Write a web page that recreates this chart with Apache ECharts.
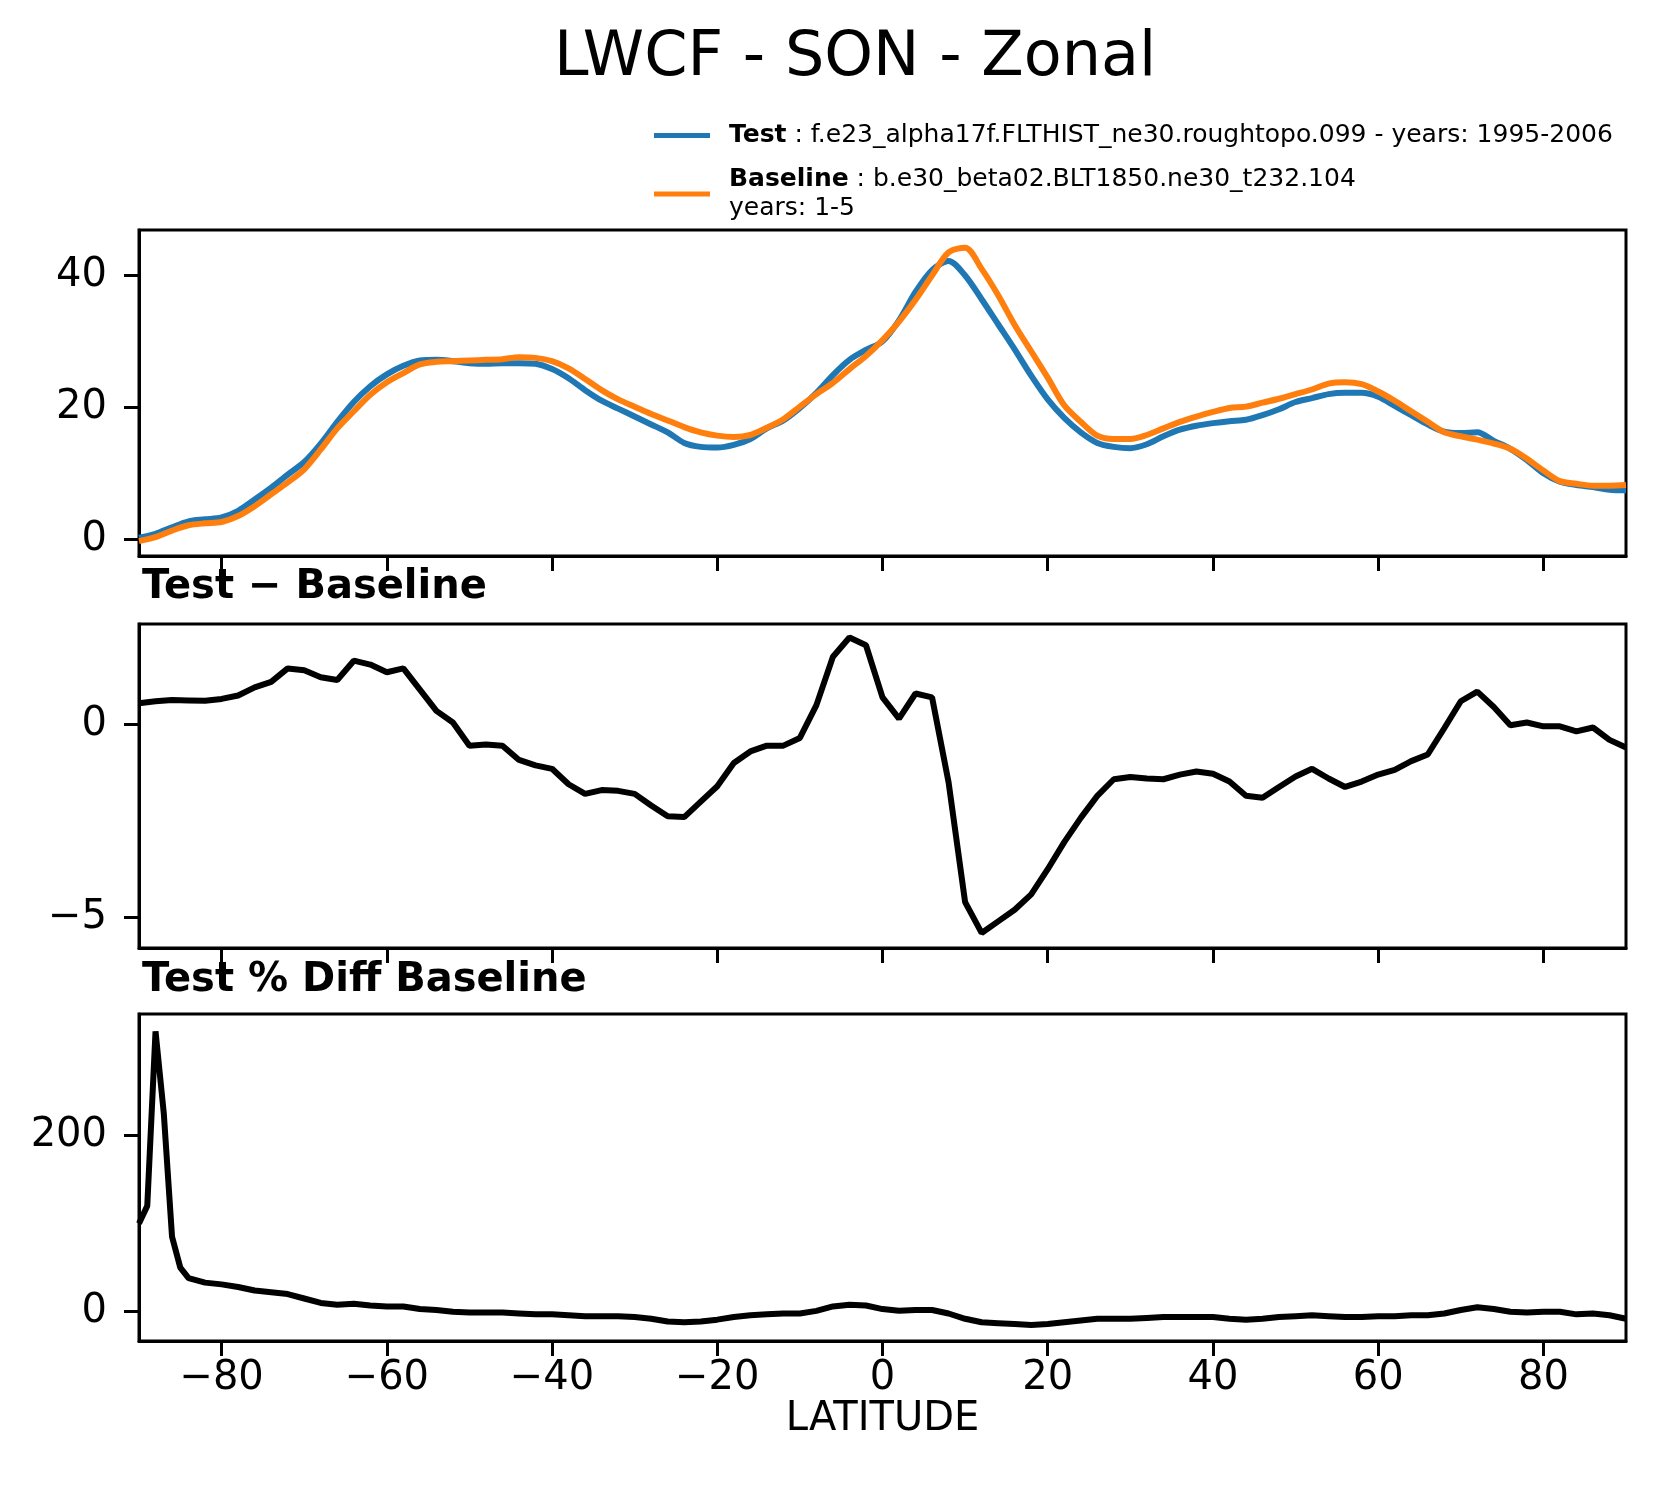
<!DOCTYPE html>
<html>
<head>
<meta charset="utf-8">
<script src="https://cdn.jsdelivr.net/npm/echarts@6/dist/echarts.min.js"></script>
<style>
  html, body { margin: 0; padding: 0; background: #fff; }
  #main { width: 1656px; height: 1496px; }
</style>
</head>
<body>
<div id="main"></div>
<script>
// latitude grid for the zonal means (2 degree steps)
var lat = [-90,-88,-86,-84,-82,-80,-78,-76,-74,-72,-70,-68,-66,-64,-62,-60,-58,-56,-54,-52,
  -50,-48,-46,-44,-42,-40,-38,-36,-34,-32,-30,-28,-26,-24,-22,-20,-18,-16,-14,-12,
  -10,-8,-6,-4,-2,0,2,4,6,8,10,12,14,16,18,20,22,24,26,28,
  30,32,34,36,38,40,42,44,46,48,50,52,54,56,58,60,62,64,66,68,
  70,72,74,76,78,80,82,84,86,88,90];

var testVals = [0.2,0.8,1.8,2.7,3.0,3.3,4.3,6.0,7.8,9.8,11.7,14.5,17.8,20.8,23.2,25.0,26.3,27.1,27.2,27.0,
  26.7,26.6,26.7,26.7,26.6,25.8,24.4,22.6,21.0,19.8,18.6,17.4,16.2,14.6,14.0,13.9,14.3,15.2,16.8,18.0,
  19.9,22.2,24.9,27.2,28.7,30.0,33.2,37.5,40.8,42.2,40.0,36.4,32.6,28.8,24.8,21.2,18.4,16.2,14.6,14.0,
  13.8,14.4,15.6,16.6,17.2,17.6,17.9,18.1,18.8,19.7,20.8,21.4,22.0,22.2,22.2,21.6,20.2,18.8,17.4,16.3,
  16.1,16.2,14.9,13.7,12.0,10.0,8.7,8.2,7.9,7.5,7.4];

var baseVals = [-0.3,0.3,1.3,2.1,2.4,2.6,3.5,5.0,6.8,8.6,10.6,13.6,16.8,19.4,21.9,23.8,25.2,26.5,26.9,27.0,
  27.1,27.2,27.3,27.6,27.5,27.0,25.9,24.3,22.6,21.2,20.1,19.0,18.0,17.0,16.2,15.7,15.5,15.8,16.9,18.2,
  20.1,22.0,23.7,25.8,27.8,30.2,33.0,36.3,40.0,43.5,44.2,41.0,37.0,32.5,28.5,24.5,20.3,17.8,15.7,15.2,
  15.2,15.8,16.8,17.8,18.6,19.3,19.9,20.1,20.7,21.3,22.0,22.7,23.6,23.8,23.5,22.4,21.0,19.4,17.8,16.2,
  15.6,15.1,14.5,13.7,12.2,10.4,8.8,8.4,8.1,8.1,8.2];

var diffVals = [0.55,0.6,0.63,0.62,0.61,0.66,0.75,0.96,1.1,1.45,1.4,1.22,1.15,1.65,1.55,1.35,1.45,0.9,0.35,0.05,
  -0.55,-0.52,-0.55,-0.92,-1.06,-1.15,-1.55,-1.8,-1.7,-1.72,-1.8,-2.1,-2.38,-2.4,-2.0,-1.6,-1.0,-0.7,-0.55,-0.55,
  -0.35,0.5,1.75,2.25,2.05,0.7,0.15,0.8,0.7,-1.5,-4.6,-5.4,-5.1,-4.8,-4.4,-3.75,-3.05,-2.42,-1.85,-1.42,
  -1.36,-1.4,-1.42,-1.3,-1.22,-1.28,-1.48,-1.85,-1.9,-1.62,-1.35,-1.15,-1.4,-1.62,-1.48,-1.3,-1.18,-0.95,-0.78,-0.1,
  0.6,0.85,0.45,-0.02,0.05,-0.05,-0.05,-0.18,-0.08,-0.4,-0.6];

// percent difference uses a finer spacing near the south pole
var pctLat = [-90,-89,-88,-87,-86,-85,-84,-82,-80,-78,-76,-74,-72,-70,-68,-66,-64,-62,-60,-58,
  -56,-54,-52,-50,-48,-46,-44,-42,-40,-38,-36,-34,-32,-30,-28,-26,-24,-22,-20,-18,
  -16,-14,-12,-10,-8,-6,-4,-2,0,2,4,6,8,10,12,14,16,18,20,22,
  24,26,28,30,32,34,36,38,40,42,44,46,48,50,52,54,56,58,60,62,
  64,66,68,70,72,74,76,78,80,82,84,86,88,90];
var pctVals = [100,120,318,225,85,50,38,33,31,28,24,22,20,15,10,8,9,7,6,6,
  3,2,0,-1,-1,-1,-2,-3,-3,-4,-5,-5,-5,-6,-8,-11,-12,-11,-9,-6,
  -4,-3,-2,-2,1,6,8,7,3,1,2,2,-2,-8,-12,-13,-14,-15,-14,-12,
  -10,-8,-8,-8,-7,-6,-6,-6,-6,-8,-9,-8,-6,-5,-4,-5,-6,-6,-5,-5,
  -4,-4,-2,2,5,3,0,-1,0,0,-3,-2,-4,-8];

var xTicks = [-80,-60,-40,-20,0,20,40,60,80];
var yTicks1 = [0,20,40];
var yTicks2 = [-5,0];
var yTicks3 = [0,200];

function pairs(xs, ys) {
  return xs.map(function (x, i) { return [x, ys[i]]; });
}
function minus(v) {
  return String(v).replace('-', '\u2212');
}

var FONT = 'DejaVu Sans';
var grids = [
  { left: 139, top: 230, width: 1487, height: 326 },
  { left: 139, top: 624, width: 1487, height: 324 },
  { left: 139, top: 1014, width: 1487, height: 327 }
];
var yRanges = [[-2.56, 46.9], [-5.79, 2.6], [-33.2, 337.6]];
var yTickSets = [yTicks1, yTicks2, yTicks3];

var chart = echarts.init(document.getElementById('main'), null, { renderer: 'canvas' });

var option = {
  backgroundColor: '#fff',
  animation: false,
  title: [
    { text: 'LWCF - SON - Zonal', left: 549, top: 23,
      textStyle: { fontFamily: FONT, fontSize: 62, fontWeight: 'normal', color: '#000' } },
    { text: 'Test \u2212 Baseline', left: 137, top: 563,
      textStyle: { fontFamily: FONT, fontSize: 40, fontWeight: 'bold', color: '#000' } },
    { text: 'Test % Diff Baseline', left: 137, top: 956,
      textStyle: { fontFamily: FONT, fontSize: 40, fontWeight: 'bold', color: '#000' } }
  ],
  legend: {
    orient: 'vertical',
    left: 649,
    top: 116,
    itemWidth: 56,
    itemHeight: 5,
    itemGap: 15,
    icon: 'rect',
    data: ['Test', 'Baseline'],
    formatter: function (name) {
      if (name === 'Test') {
        return '{b|Test} : f.e23_alpha17f.FLTHIST_ne30.roughtopo.099 - years: 1995-2006';
      }
      return '{b|Baseline} : b.e30_beta02.BLT1850.ne30_t232.104\nyears: 1-5';
    },
    textStyle: {
      fontFamily: FONT, fontSize: 25, color: '#000', lineHeight: 29, padding: [0, 0, 0, 14],
      rich: { b: { fontFamily: FONT, fontSize: 25, fontWeight: 'bold', color: '#000', lineHeight: 29 } }
    }
  },
  grid: grids.map(function (g) {
    return Object.assign({ show: true, borderColor: '#000', borderWidth: 3, backgroundColor: 'transparent' }, g);
  }),
  xAxis: grids.map(function (g, i) {
    return {
      type: 'value', gridIndex: i, min: -90, max: 90,
      splitLine: { show: false },
      axisLine: { show: true, onZero: false, lineStyle: { color: '#000', width: 3 } },
      axisTick: { show: true, length: 15, lineStyle: { color: '#000', width: 3 }, customValues: xTicks },
      axisLabel: {
        show: i === 2, customValues: xTicks, margin: 18,
        fontFamily: FONT, fontSize: 40, color: '#000', formatter: minus
      },
      name: i === 2 ? 'LATITUDE' : '',
      nameLocation: 'middle', nameGap: 58,
      nameTextStyle: { fontFamily: FONT, fontSize: 40, color: '#000' }
    };
  }),
  yAxis: grids.map(function (g, i) {
    return {
      type: 'value', gridIndex: i, min: yRanges[i][0], max: yRanges[i][1],
      splitLine: { show: false },
      axisLine: { show: true, onZero: false, lineStyle: { color: '#000', width: 3 } },
      axisTick: { show: true, length: 15, lineStyle: { color: '#000', width: 3 }, customValues: yTickSets[i] },
      axisLabel: {
        customValues: yTickSets[i], margin: 32,
        fontFamily: FONT, fontSize: 40, color: '#000', formatter: minus
      }
    };
  }),
  series: [
    { name: 'Test', type: 'line', xAxisIndex: 0, yAxisIndex: 0, data: pairs(lat, testVals),
      showSymbol: false, smooth: 0.3, lineStyle: { color: '#1f77b4', width: 6 }, itemStyle: { color: '#1f77b4' } },
    { name: 'Baseline', type: 'line', xAxisIndex: 0, yAxisIndex: 0, data: pairs(lat, baseVals),
      showSymbol: false, smooth: 0.3, lineStyle: { color: '#ff7f0e', width: 6 }, itemStyle: { color: '#ff7f0e' } },
    { name: 'diff', type: 'line', xAxisIndex: 1, yAxisIndex: 1, data: pairs(lat, diffVals),
      showSymbol: false, lineStyle: { color: '#000', width: 6 }, itemStyle: { color: '#000' } },
    { name: 'pct', type: 'line', xAxisIndex: 2, yAxisIndex: 2, data: pairs(pctLat, pctVals),
      showSymbol: false, lineStyle: { color: '#000', width: 6 }, itemStyle: { color: '#000' } }
  ]
};

chart.setOption(option);
</script>
</body>
</html>
